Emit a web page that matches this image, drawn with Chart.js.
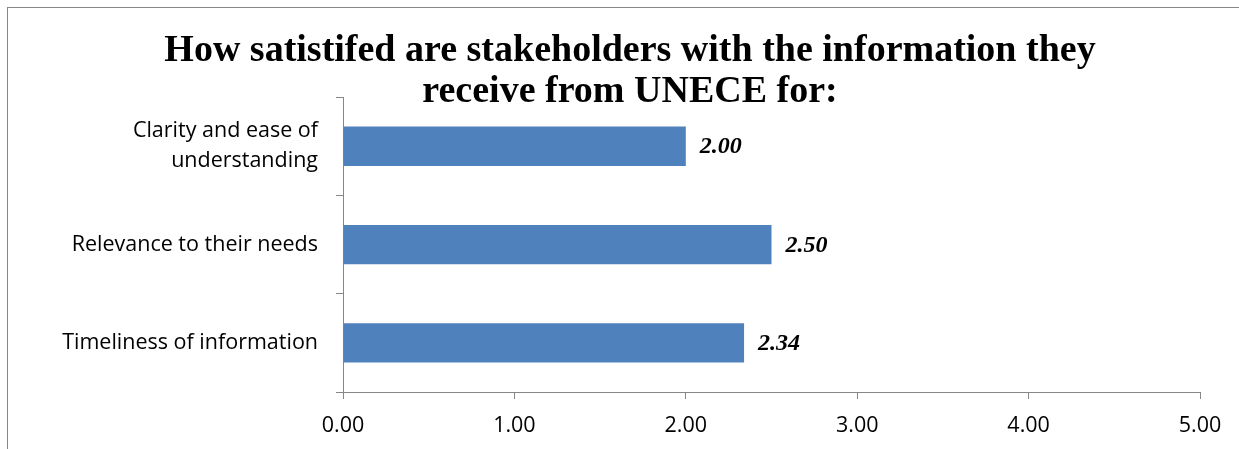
<!DOCTYPE html>
<html>
<head>
<meta charset="utf-8">
<script src="https://cdn.jsdelivr.net/npm/chart.js@4"></script>
<style>
    html, body { margin: 0; padding: 0; background: #fff; overflow: hidden; }
    #frame {
        position: absolute; left: 7px; top: 7px;
        width: 1245px; height: 441px;
        border-left: 1px solid #878787; border-top: 1px solid #878787;
    }
    #satisfactionChart { display: block; }
</style>
</head>
<body>
<div id="frame">
    <canvas id="satisfactionChart" width="1245" height="441"></canvas>
</div>
<script>
const categories = [
    ['Clarity and ease of', 'understanding'],
    'Relevance to their needs',
    'Timeliness of information'
];
const satisfactionScores = [2.00, 2.50, 2.34];
const scoreTicks = [0, 1, 2, 3, 4, 5];

const axisGrey = '#878787';

// draws the bold italic value next to each bar
const valueLabels = {
    id: 'valueLabels',
    afterDatasetsDraw(chart) {
        const ctx = chart.ctx;
        const meta = chart.getDatasetMeta(0);
        ctx.save();
        ctx.font = 'italic bold 24px "Liberation Serif"';
        ctx.fillStyle = '#000';
        ctx.textAlign = 'left';
        ctx.textBaseline = 'middle';
        meta.data.forEach((bar, i) => {
            ctx.fillText(satisfactionScores[i].toFixed(2), bar.x + 14, bar.y + 1);
        });
        ctx.restore();
    }
};

function initializeSatisfactionChart() {
    const ctx = document.getElementById('satisfactionChart').getContext('2d');
    new Chart(ctx, {
        type: 'bar',
        data: {
            labels: categories,
            datasets: [{
                data: satisfactionScores,
                backgroundColor: '#4F81BD',
                borderWidth: 0,
                barPercentage: 0.4,
                categoryPercentage: 1
            }]
        },
        options: {
            indexAxis: 'y',
            responsive: false,
            animation: false,
            layout: { padding: { left: 52, right: 53, top: 0, bottom: 12 } },
            plugins: {
                legend: { display: false },
                tooltip: { enabled: false },
                title: {
                    display: true,
                    text: ['How satistifed are stakeholders with the information they', 'receive from UNECE for:'],
                    color: '#000',
                    font: { family: '"Liberation Serif"', size: 38, weight: 'bold', lineHeight: 1.08 },
                    padding: { top: 23, bottom: -16 }
                }
            },
            scales: {
                x: {
                    min: 0,
                    max: 5,
                    afterBuildTicks: (scale) => { scale.ticks = scoreTicks.map(v => ({ value: v })); },
                    afterFit: (scale) => { scale.height = 45; },
                    grid: { drawOnChartArea: false, color: axisGrey, tickLength: 7 },
                    border: { display: true, color: axisGrey },
                    ticks: {
                        color: '#000',
                        padding: 14,
                        font: { family: '"Open Sans"', size: 21.5 },
                        callback: (v) => Number(v).toFixed(2)
                    }
                },
                y: {
                    afterFit: (scale) => { scale.width = 283; },
                    grid: { drawOnChartArea: false, color: axisGrey, tickLength: 7, offset: true },
                    border: { display: true, color: axisGrey },
                    ticks: {
                        color: '#000',
                        padding: 18,
                        font: { family: '"Open Sans"', size: 21.5, lineHeight: 1.4 }
                    }
                }
            }
        },
        plugins: [valueLabels]
    });
}

document.addEventListener('DOMContentLoaded', initializeSatisfactionChart);
</script>
</body>
</html>
